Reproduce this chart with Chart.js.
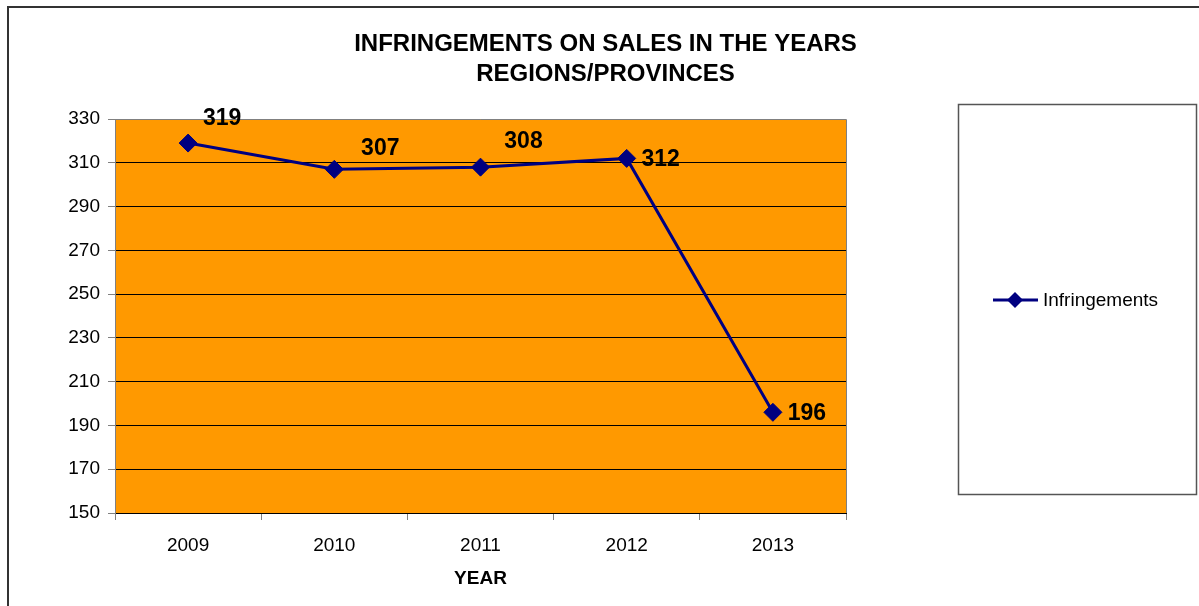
<!DOCTYPE html>
<html lang="en">
<head>
    <meta charset="UTF-8">
    <title>Infringements on sales</title>
    <script src="https://cdn.jsdelivr.net/npm/chart.js"></script>
    <style>
        body { margin: 0; background: #fff; }
    </style>
</head>
<body>
    <canvas id="myChart" width="1199" height="606"></canvas>
    <script>
        const years = ["2009", "2010", "2011", "2012", "2013"];
        const infringements = [319, 307, 308, 312, 196];
        const yTicks = [150, 170, 190, 210, 230, 250, 270, 290, 310, 330];

        const navy = "#000080";
        const orange = "#FF9900";
        const fontFamily = "'Liberation Sans', Arial, sans-serif";

        // orange plot background, frame lines, value labels and the boxed legend
        const decor = {
            id: "decor",
            beforeDraw(chart) {
                const {ctx, chartArea: a} = chart;
                ctx.save();
                ctx.fillStyle = orange;
                ctx.fillRect(a.left, a.top, a.right - a.left, a.bottom - a.top);
                ctx.restore();
            },
            afterDatasetsDraw(chart, args, opts) {
                const {ctx, chartArea: a} = chart;
                ctx.save();
                // plot frame (top + right)
                ctx.strokeStyle = "#808080";
                ctx.lineWidth = 1;
                ctx.beginPath();
                ctx.moveTo(a.left, a.top + 0.5);
                ctx.lineTo(a.right + 0.5, a.top + 0.5);
                ctx.lineTo(a.right + 0.5, a.bottom);
                ctx.stroke();

                // value labels
                const meta = chart.getDatasetMeta(0);
                ctx.fillStyle = "#000";
                ctx.font = "bold 23px " + fontFamily;
                ctx.textAlign = "center";
                ctx.textBaseline = "middle";
                meta.data.forEach((pt, i) => {
                    const [dx, dy] = opts.offsets[i];
                    ctx.fillText(infringements[i], pt.x + dx, pt.y + dy);
                });

                // outer border
                ctx.strokeStyle = "#333";
                ctx.lineWidth = 2;
                ctx.beginPath();
                ctx.moveTo(8, chart.height);
                ctx.lineTo(8, 7);
                ctx.lineTo(chart.width, 7);
                ctx.stroke();

                // legend box
                const ds = chart.data.datasets[0];
                ctx.strokeStyle = "#555";
                ctx.lineWidth = 1.5;
                ctx.strokeRect(958.5, 104.5, 238, 390);
                const ly = 300;
                ctx.strokeStyle = ds.borderColor;
                ctx.lineWidth = 3;
                ctx.beginPath();
                ctx.moveTo(993, ly);
                ctx.lineTo(1038, ly);
                ctx.stroke();
                ctx.fillStyle = ds.backgroundColor;
                ctx.beginPath();
                ctx.moveTo(1015, ly - 8);
                ctx.lineTo(1023, ly);
                ctx.lineTo(1015, ly + 8);
                ctx.lineTo(1007, ly);
                ctx.closePath();
                ctx.fill();
                ctx.fillStyle = "#000";
                ctx.font = "19px " + fontFamily;
                ctx.textAlign = "left";
                ctx.fillText(ds.label, 1043, ly + 1);
                ctx.restore();
            }
        };

        new Chart(document.getElementById("myChart"), {
            type: "line",
            data: {
                labels: years,
                datasets: [{
                    label: "Infringements",
                    data: infringements,
                    borderColor: navy,
                    backgroundColor: navy,
                    borderWidth: 3,
                    tension: 0,
                    pointStyle: "rectRot",
                    pointRadius: 9,
                    pointBorderWidth: 1,
                    pointBorderColor: navy,
                    pointBackgroundColor: navy
                }]
            },
            options: {
                responsive: false,
                animation: false,
                layout: { padding: { top: 29, right: 0, bottom: 0, left: 12 } },
                plugins: {
                    legend: { display: false },
                    tooltip: { enabled: false },
                    title: {
                        display: true,
                        text: ["INFRINGEMENTS ON SALES IN THE YEARS", "REGIONS/PROVINCES"],
                        color: "#000",
                        font: { family: fontFamily, size: 24, weight: "bold", lineHeight: 1.25 },
                        padding: { top: 0, bottom: 30 }
                    },
                    decor: {
                        offsets: [[34, -24], [46, -21], [43, -25], [34, 1], [34, 1]]
                    }
                },
                scales: {
                    x: {
                        offset: true,
                        grid: {
                            offset: true,
                            drawOnChartArea: false,
                            color: "#808080",
                            tickLength: 7
                        },
                        border: { color: "#000", width: 1 },
                        ticks: {
                            color: "#000",
                            padding: 14,
                            font: { family: fontFamily, size: 19 }
                        },
                        title: {
                            display: true,
                            text: "YEAR",
                            color: "#000",
                            font: { family: fontFamily, size: 19, weight: "bold" },
                            padding: { top: 0, bottom: 16 }
                        },
                        afterFit(scale) { scale.height = 93; }
                    },
                    y: {
                        min: 150,
                        max: 330,
                        afterBuildTicks(scale) {
                            scale.ticks = yTicks.map(v => ({ value: v }));
                        },
                        grid: {
                            color: ctx => ctx.tick && ctx.tick.value === 330 ? "rgba(0,0,0,0)" : "#000",
                            tickColor: "#808080",
                            tickLength: 7
                        },
                        border: { color: "#808080", width: 1 },
                        ticks: {
                            color: "#000",
                            padding: 8,
                            font: { family: fontFamily, size: 19 }
                        },
                        afterFit(scale) { scale.width = 103; }
                    },
                    // empty right-hand band that holds the legend box
                    side: {
                        position: "right",
                        min: 150,
                        max: 330,
                        grid: { display: false },
                        border: { display: false },
                        ticks: { display: false },
                        afterFit(scale) { scale.width = 353; }
                    }
                }
            },
            plugins: [decor]
        });
    </script>
</body>
</html>
